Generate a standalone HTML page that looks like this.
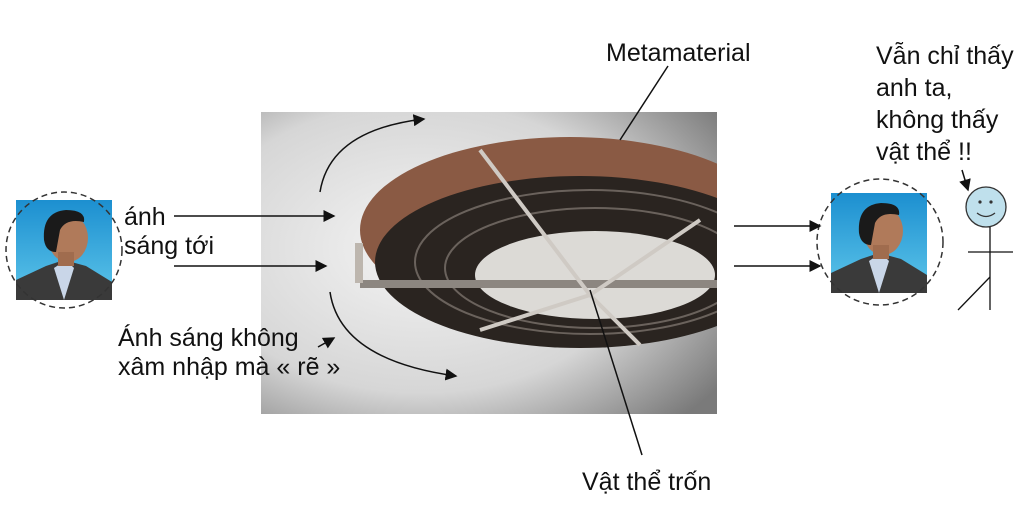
<!DOCTYPE html>
<html><head><meta charset="utf-8"><style>
body{margin:0;background:#fff;width:1024px;height:500px;overflow:hidden}
svg text{font-family:"Liberation Sans",sans-serif;font-size:25px;fill:#111}
</style></head><body>
<svg width="1024" height="500" viewBox="0 0 1024 500">
<defs>
<radialGradient id="bg" cx="0.35" cy="0.45" r="0.8">
<stop offset="0" stop-color="#f4f4f4"/><stop offset="0.6" stop-color="#d6d6d6"/><stop offset="1" stop-color="#7a7a7a"/></radialGradient>
<linearGradient id="sky" x1="0" y1="0" x2="0" y2="1"><stop offset="0" stop-color="#1c8fd0"/><stop offset="1" stop-color="#5ec6ea"/></linearGradient>
<clipPath id="ph"><rect x="261" y="112" width="456" height="302"/></clipPath>
<marker id="a" markerWidth="8" markerHeight="8" refX="7" refY="4" orient="auto"><path d="M0,0L8,4L0,8z" fill="#111"/></marker>
<g id="face">
<rect x="0" y="0" width="96" height="100" fill="url(#sky)"/>
<path d="M0,100 L0,80 L30,66 L48,60 L70,66 L96,82 L96,100z" fill="#3a3a3a"/>
<path d="M38,68 L48,100 L58,68 L50,60z" fill="#c9d6e8"/>
<ellipse cx="52" cy="38" rx="20" ry="24" fill="#b07a5a"/>
<path d="M28,40 Q26,12 50,10 Q70,10 68,22 Q50,18 44,30 L40,52 Q30,52 28,40z" fill="#1a1a1a"/>
<rect x="42" y="52" width="16" height="14" fill="#a06c4e"/>
</g>
</defs>
<g clip-path="url(#ph)">
<rect x="261" y="112" width="456" height="302" fill="url(#bg)"/>
<ellipse cx="570" cy="230" rx="210" ry="93" fill="#8a5a44"/>
<ellipse cx="580" cy="262" rx="205" ry="86" fill="#2a2420"/>
<ellipse cx="590" cy="262" rx="175" ry="72" fill="none" stroke="#6a625c" stroke-width="2"/>
<ellipse cx="595" cy="268" rx="150" ry="60" fill="none" stroke="#6a625c" stroke-width="2"/>
<ellipse cx="595" cy="275" rx="120" ry="44" fill="#dcdad6"/>
<path d="M360,280 L717,280 L717,288 L360,288z" fill="#8c8680"/>
<path d="M590,295 L480,330 M590,295 L640,345 M590,295 L700,220 M590,295 L480,150" stroke="#cfcac4" stroke-width="4"/>
<rect x="355" y="243" width="8" height="40" fill="#bdb6ae"/>
</g>
<use href="#face" x="16" y="200"/>
<circle cx="64" cy="250" r="58" fill="none" stroke="#333" stroke-width="1.5" stroke-dasharray="6,4"/>
<use href="#face" x="831" y="193"/>
<circle cx="880" cy="242" r="63" fill="none" stroke="#333" stroke-width="1.5" stroke-dasharray="6,4"/>
<g stroke="#111" stroke-width="1.5" fill="none" marker-end="url(#a)">
<line x1="174" y1="216" x2="334" y2="216"/>
<line x1="174" y1="266" x2="326" y2="266"/>
<path d="M320,192 Q330,130 424,119"/>
<path d="M330,292 Q340,360 456,376"/>
<line x1="318" y1="347" x2="334" y2="338"/>
<line x1="734" y1="226" x2="820" y2="226"/>
<line x1="734" y1="266" x2="820" y2="266"/>
<line x1="962" y1="170" x2="968" y2="190"/>
</g>
<line x1="668" y1="66" x2="620" y2="140" stroke="#111" stroke-width="1.5"/>
<line x1="642" y1="455" x2="590" y2="290" stroke="#111" stroke-width="1.5"/>
<circle cx="986" cy="207" r="20" fill="#bfe0ec" stroke="#333" stroke-width="1.3"/>
<circle cx="980" cy="202" r="1.6" fill="#333"/><circle cx="991" cy="202" r="1.6" fill="#333"/>
<path d="M977,213 Q986,220 995,213" stroke="#333" fill="none" stroke-width="1.3"/>
<g stroke="#111" stroke-width="1.3"><line x1="990" y1="227" x2="990" y2="310"/><line x1="968" y1="252" x2="1013" y2="252"/><line x1="990" y1="277" x2="958" y2="310"/></g>
<text x="124" y="225">ánh</text>
<text x="124" y="254">sáng tới</text>
<text x="118" y="346">Ánh sáng không</text>
<text x="118" y="375">xâm nhập mà « rẽ »</text>
<text x="606" y="61">Metamaterial</text>
<text x="582" y="490">Vật thể trốn</text>
<text x="876" y="64">Vẫn chỉ thấy</text>
<text x="876" y="96">anh ta,</text>
<text x="876" y="128">không thấy</text>
<text x="876" y="160">vật thể !!</text>
</svg>
</body></html>
